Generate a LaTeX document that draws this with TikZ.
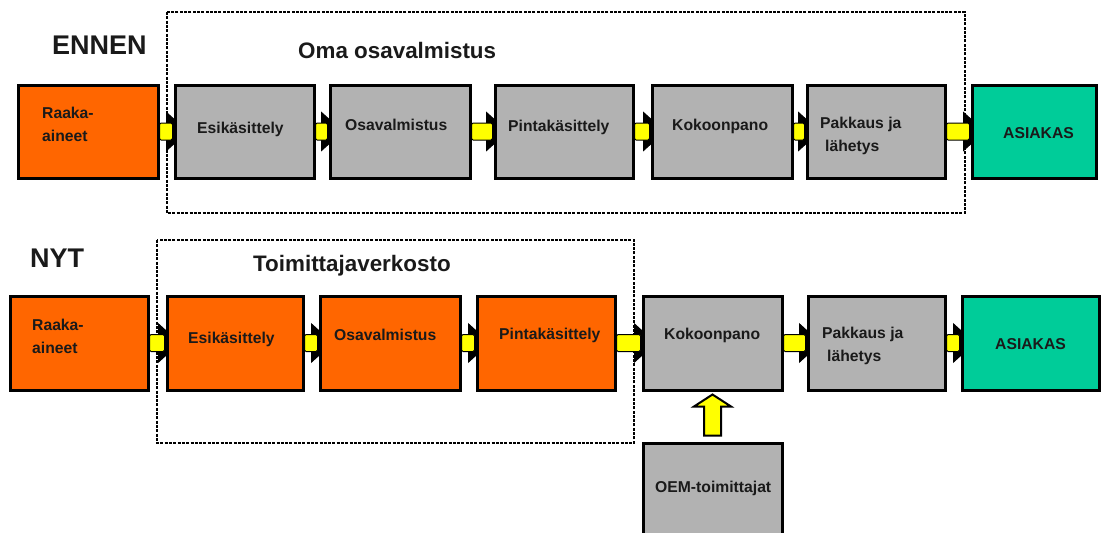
\documentclass[tikz,border=0pt]{standalone}
\usepackage{fontspec}
\setmainfont{Liberation Sans}
\definecolor{orangebox}{HTML}{FF6600}
\definecolor{greybox}{HTML}{B2B2B2}
\definecolor{greenbox}{HTML}{00CC99}
\definecolor{arrowfill}{HTML}{FFFF00}
\definecolor{ink}{HTML}{1A1A1A}
\begin{document}
\begin{tikzpicture}[x=1pt,y=-1pt,
  stage/.style={draw=black,line width=3pt,inner sep=0pt,minimum height=93pt},
  raw/.style={stage,fill=orangebox},
  inhouse/.style={stage,fill=greybox},
  client/.style={stage,fill=greenbox},
  boxtext/.style={inner sep=0pt,text=ink,font=\fontsize{15.7}{23}\selectfont\bfseries,align=left},
  heading/.style={inner sep=0pt,text=ink,anchor=base west},
  frame/.style={draw=black,line width=2.2pt,dash pattern=on 3pt off 1.3pt},
  shaft/.style={fill=arrowfill,draw=black,line width=1pt,rounded corners=1.5pt},
  head/.style={fill=black,draw=black,line width=1pt}
]
\useasboundingbox (0,0) rectangle (1101,533);
\clip (0,0) rectangle (1101,533);

% block arrow from stage #1 to stage #2
\newcommand\flow[2]{%
  \path[head] ([xshift=-7pt,yshift=19pt]#2.west) -- ([xshift=14pt]#2.west)
     -- ([xshift=-7pt,yshift=-19pt]#2.west) -- cycle;
  \path[shaft] ([yshift=8.5pt]#1.east) rectangle ([xshift=-1pt,yshift=-8.5pt]#2.west);
}

% ---------- ENNEN ----------
\node[heading,font=\fontsize{27}{30}\selectfont\bfseries] (hEnnen) at (52,54) {ENNEN};
\node[heading,font=\fontsize{22.4}{26}\selectfont\bfseries] (hOma) at (298,58) {Oma osavalmistus};
\draw[frame] (167,12) rectangle (965,213);

% stage outlines used as arrow anchors
\path
  (88,131.5)    node[raw,minimum width=140pt,draw=none] (r1) {}
  (244.5,131.5) node[inhouse,minimum width=139pt,draw=none] (e1) {}
  (400,131.5)   node[inhouse,minimum width=140pt,draw=none] (o1) {}
  (564,131.5)   node[inhouse,minimum width=138pt,draw=none] (p1) {}
  (722,131.5)   node[inhouse,minimum width=140pt,draw=none] (k1) {}
  (876,131.5)   node[inhouse,minimum width=138pt,draw=none] (l1) {}
  (1034,131.5)  node[client,minimum width=124pt,draw=none] (a1) {};

\flow{r1}{e1}\flow{e1}{o1}\flow{o1}{p1}\flow{p1}{k1}\flow{k1}{l1}\flow{l1}{a1}

\path
  (88,131.5)    node[raw,minimum width=140pt] (R1) {}
  (244.5,131.5) node[inhouse,minimum width=139pt] (E1) {}
  (400,131.5)   node[inhouse,minimum width=140pt] (O1) {}
  (564,131.5)   node[inhouse,minimum width=138pt] (P1) {}
  (722,131.5)   node[inhouse,minimum width=140pt] (K1) {}
  (876,131.5)   node[inhouse,minimum width=138pt] (L1) {}
  (1034,131.5)  node[client,minimum width=124pt] (A1) {};

\node[boxtext,anchor=west] (tR1) at (42,124.5) {Raaka-\\aineet};
\node[boxtext,anchor=base west] (tE1) at (197,133.5) {Esikäsittely};
\node[boxtext,anchor=base west] (tO1) at (345,130.5) {Osavalmistus};
\node[boxtext,anchor=base west] (tP1) at (508,131.5) {Pintakäsittely};
\node[boxtext,anchor=base west] (tK1) at (672,130.5) {Kokoonpano};
\node[boxtext,anchor=west] (tL1) at (820,135.5) {Pakkaus ja\\\hspace{5pt}lähetys};
\node[boxtext,anchor=base west] (tA1) at (1003,138.5) {ASIAKAS};

% ---------- NYT ----------
\node[heading,font=\fontsize{27}{30}\selectfont\bfseries] (hNyt) at (30,267.5) {NYT};
\node[heading,font=\fontsize{22.4}{26}\selectfont\bfseries] (hToim) at (253,271) {Toimittajaverkosto};
\draw[frame] (157,240) rectangle (634,443);

\path
  (79,343)    node[raw,minimum width=138pt,minimum height=94pt,draw=none] (r2) {}
  (235,343)   node[raw,minimum width=136pt,minimum height=94pt,draw=none] (e2) {}
  (390,343)   node[raw,minimum width=140pt,minimum height=94pt,draw=none] (o2) {}
  (546,343)   node[raw,minimum width=138pt,minimum height=94pt,draw=none] (p2) {}
  (712.5,343) node[inhouse,minimum width=139pt,minimum height=94pt,draw=none] (k2) {}
  (876.5,343) node[inhouse,minimum width=137pt,minimum height=94pt,draw=none] (l2) {}
  (1030.5,343) node[client,minimum width=137pt,minimum height=94pt,draw=none] (a2) {}
  (712.5,494) node[inhouse,minimum width=139pt,minimum height=102pt,draw=none] (oem) {};

\flow{r2}{e2}\flow{e2}{o2}\flow{o2}{p2}\flow{p2}{k2}\flow{k2}{l2}\flow{l2}{a2}

% upward supply arrow from the OEM suppliers
\draw[fill=arrowfill,draw=black,line width=2pt,line join=miter]
  ([xshift=-8.5pt,yshift=6pt]oem.north) -- ([xshift=-8.5pt,yshift=35pt]oem.north)
  -- ([xshift=-18.5pt,yshift=35pt]oem.north) -- ([yshift=47pt]oem.north)
  -- ([xshift=18.5pt,yshift=35pt]oem.north) -- ([xshift=8.5pt,yshift=35pt]oem.north)
  -- ([xshift=8.5pt,yshift=6pt]oem.north) -- cycle;

\path
  (79,343)    node[raw,minimum width=138pt,minimum height=94pt] (R2) {}
  (235,343)   node[raw,minimum width=136pt,minimum height=94pt] (E2) {}
  (390,343)   node[raw,minimum width=140pt,minimum height=94pt] (O2) {}
  (546,343)   node[raw,minimum width=138pt,minimum height=94pt] (P2) {}
  (712.5,343) node[inhouse,minimum width=139pt,minimum height=94pt] (K2) {}
  (876.5,343) node[inhouse,minimum width=137pt,minimum height=94pt] (L2) {}
  (1030.5,343) node[client,minimum width=137pt,minimum height=94pt] (A2) {}
  (712.5,494) node[inhouse,minimum width=139pt,minimum height=102pt] (OEM) {};

\node[boxtext,anchor=west] (tR2) at (32,336) {Raaka-\\aineet};
\node[boxtext,anchor=base west] (tE2) at (188,343.5) {Esikäsittely};
\node[boxtext,anchor=base west] (tO2) at (334,340.5) {Osavalmistus};
\node[boxtext,anchor=base west] (tP2) at (499,339.5) {Pintakäsittely};
\node[boxtext,anchor=base west] (tK2) at (664,339.5) {Kokoonpano};
\node[boxtext,anchor=west] (tL2) at (822,346) {Pakkaus ja\\\hspace{5pt}lähetys};
\node[boxtext,anchor=base west] (tA2) at (995,349.5) {ASIAKAS};
\node[boxtext,anchor=base west] (tOEM) at (655,492.5) {OEM-toimittajat};
\end{tikzpicture}
\end{document}
